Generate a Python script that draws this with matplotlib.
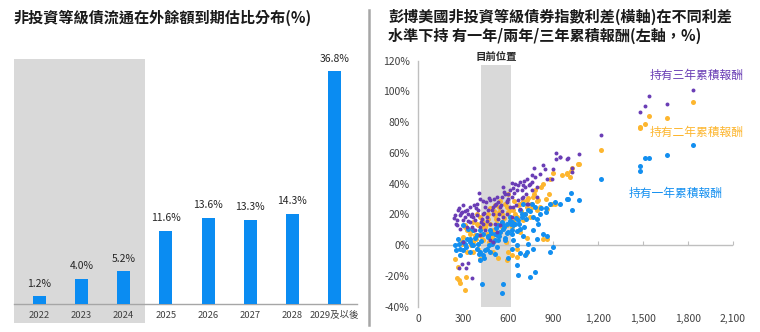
import matplotlib
matplotlib.use("Agg")
import matplotlib.pyplot as plt
from matplotlib.patches import Rectangle
from matplotlib.ticker import FuncFormatter

plt.rcParams['font.family'] = ['Noto Sans CJK TC', 'DejaVu Sans']

# ---------------- data: left chart ----------------
years = ["2022", "2023", "2024", "2025", "2026", "2027", "2028", "2029及以後"]
maturity_pct = [1.2, 4.0, 5.2, 11.6, 13.6, 13.3, 14.3, 36.8]

# ---------------- data: right chart (spread bp, cumulative return %) ----------------
purple_x = [240, 269, 280, 324, 347, 387, 409, 413, 453, 480, 524, 569, 573, 624, 647, 680, 724, 758,
            773, 831, 846, 858, 891, 920, 918, 947, 1002, 1073, 1024, 1024, 702, 658, 758, 791, 736,
            624, 591, 502, 547, 436, 369, 302, 258, 324, 413, 480, 413, 480, 524, 636, 680, 724, 513,
            347, 391, 280, 380, 447, 333, 320, 360, 273, 295, 302, 502, 902,
            291, 313, 358, 402, 447, 469, 513, 536, 558, 602, 613, 669, 691, 713, 747, 780, 591, 624,
            458, 380, 247, 262, 436, 569, 547, 425,
            255, 285, 310, 335, 350, 375, 395, 420, 440, 460, 490, 505, 520, 540, 555, 580, 600, 615,
            630, 650, 665, 690, 705, 720, 740, 760, 790, 810, 270, 300, 330, 360, 430, 470, 500, 530,
            560, 595, 640, 700,
            1220, 1836, 1662, 1542, 1516, 1478, 995, 946]
purple_y = [17.8, 22.8, 19.5, 22.8, 24.9, 24.5, 34.0, 30.3, 28.2, 29.3, 31.4, 37.9, 34.7, 40.5, 40.1,
            40.9, 43.3, 45.5, 50.5, 52.0, 49.8, 43.3, 43.3, 56.3, 60.0, 57.4, 56.7, 59.1, 47.7, 50.0,
            31.4, 35.7, 35.7, 31.4, 27.0, 31.4, 28.2, 20.6, 24.9, 20.6, 18.4, 16.3, 13.0, 11.9, 11.9,
            14.1, 6.5, 3.3, 8.7, 24.9, 23.8, 27.0, 14.1, 15.2, 19.5, 10.8, 9.8, 9.8, -11.7, -15.0,
            -21.5, -15.0, -12.3, 2.2, 2.2, 49.3,
            21.7, 18.4, 20.6, 23.2, 24.9, 22.8, 26.0, 28.2, 31.4, 33.6, 24.9, 29.3, 35.7, 37.9, 40.0,
            44.4, 20.6, 18.4, 18.4, 16.3, 19.5, 16.3, 14.1, 18.4, 13.0, 17.3,
            14, 21, 22, 16, 19, 26, 27, 15, 21, 16, 23, 30, 27, 20, 26, 33, 30, 36,
            37, 26, 39, 31, 42, 33, 39, 41, 38, 46, 24, 26, 20, 12, 29, 31, 25, 17,
            22, 29, 34, 39,
            71.7, 100.8, 91.6, 96.8, 90.4, 86.5, 56.3, 57.4]

orange_x = [247, 269, 262, 273, 280, 320, 313, 329, 369, 402, 413, 291, 347, 369, 436, 491, 524, 542,
            513, 558, 591, 613, 636, 680, 724, 769, 780, 835, 880, 902, 958, 991, 1024, 1013, 1073,
            858, 891, 913, 835, 858, 587, 591, 602, 624, 658, 720, 724, 791, 813, 747, 702, 658, 313,
            391, 436, 469, 413, 358, 502, 547, 458, 380, 624, 680, 513, 480, 302, 329, 558, 580, 602,
            724, 758, 802, 658, 502, 413,
            290, 310, 340, 365, 385, 400, 425, 445, 465, 485, 505, 520, 540, 560, 575, 590, 610, 630,
            645, 665, 685, 700, 715, 735, 750, 775, 795, 820, 850, 870, 350, 420, 480, 545, 600, 640,
            470, 530, 395, 455,
            1220, 1836, 1662, 1542, 1516, 1478, 1478, 996, 1020, 1069]
orange_y = [-8.7, -14.1, -21.2, -22.8, -24.3, -20.6, -29.3, -4.3, -4.3, -2.2, 6.5, 1.1, 7.6, 2.2, 3.3,
            5.4, 14.1, 21.7, 26.0, 20.6, 24.9, 18.4, 22.8, 27.0, 24.9, 31.4, 35.7, 40.0, 43.3, 47.1,
            45.4, 47.0, 50.3, 44.6, 52.8, 23.8, 27.0, 27.0, 4.3, 4.3, 2.2, -9.8, -4.3, -6.5, -7.6,
            -5.4, 4.9, 22.8, 24.9, 18.4, 16.3, 18.4, 13.0, 14.1, 11.9, 17.3, 18.4, 9.8, 9.8, 8.7, 7.6,
            6.5, 11.9, 8.7, 19.5, 14.1, 5.4, 9.8, 15.2, 27.0, 21.7, 29.3, 24.9, 29.3, -2.2, -4.3, -8.7,
            3, 12, 10, 15, 4, 13, 16, 12, 20, 9, 22, 17, 25, 12, 18, 13, 23, 16,
            20, 26, 22, 29, 20, 31, 27, 33, 29, 38, 30, 33, 0, 6, 24, 29, 33, 29,
            2, -8, 20, 14,
            62.2, 93.0, 82.5, 84.0, 78.9, 76.9, 76.0, 46.6, 48.1, 52.6]

blue_x = [247, 264, 280, 298, 313, 329, 347, 369, 391, 409, 413, 436, 458, 480, 513, 491, 524, 547,
          569, 591, 602, 624, 647, 669, 691, 713, 736, 780, 813, 853, 880, 913, 947, 998, 1020, 1024,
          1073, 791, 831, 858, 902, 880, 769, 724, 713, 658, 636, 624, 658, 669, 747, 780, 425, 569,
          558, 413, 347, 280, 580, 536, 513, 469, 436, 391, 369, 331, 302, 413, 480, 536, 558, 613,
          702, 680, 758, 769, 802, 624, 680, 524, 624,
          255, 275, 300, 320, 345, 360, 380, 400, 420, 445, 465, 485, 500, 520, 540, 560, 575, 595,
          610, 630, 650, 670, 690, 705, 720, 745, 765, 790, 820, 850, 440, 470, 510, 580, 620, 660,
          700, 735, 680, 600,
          1220, 1836, 1662, 1542, 1516, 1480, 1480, 995]
blue_y = [0.0, 4.3, -2.2, -3.3, 1.1, 4.3, 2.2, 0.0, -2.2, -5.4, -9.8, -6.5, -2.2, -4.3, -5.4, 1.1, 6.5,
          8.7, 10.8, 14.1, 8.7, 15.2, 14.1, 16.3, 18.4, 20.6, 22.8, 24.9, 20.6, 21.7, 27.0, 28.2, 27.0,
          30.3, 34.0, 22.8, 29.2, 4.3, 7.6, 6.0, -1.1, -4.3, -2.2, -4.3, -6.5, 0.0, 3.3, 7.6, -13.0,
          -19.5, -21.0, -17.7, -25.0, -25.0, -30.8, -4.3, -4.3, -6.5, 3.3, 3.3, 3.3, 5.4, 7.6, 6.5,
          9.8, 10.8, 13.0, 9.8, 9.8, 13.0, 15.2, 18.4, 27.0, 22.8, 27.0, 18.4, 14.1, 9.8, 10.8, -1.1,
          -2.2,
          -3, 1, 2, -1, 4, 0, 5, 1, 3, -3, 6, 8, 2, 11, 6, 14, 12, 8,
          16, 13, 18, 14, 20, 12, 17, 22, 10, 17, 24, 24, -8, 0, 7, 5, 14, 9,
          6, 1, -5, -8,
          42.9, 65.2, 58.5, 56.5, 56.5, 51.6, 48.3, 30.3]

series_labels = ["持有三年累積報酬", "持有二年累積報酬", "持有一年累積報酬"]

C_BAR = "#0A8CF2"
C_BLUE = "#138FF0"
C_ORANGE = "#FDB62F"
C_PURPLE = "#6A3DB5"
C_GRAY = "#D9D9D9"
C_TEXT = "#404040"

fig = plt.figure(figsize=(7.6, 3.32), dpi=100)

# ---------------- left chart ----------------
fig.patches.append(Rectangle((14/760, 9/332), 131/760, 264/332, transform=fig.transFigure,
                             facecolor=C_GRAY, edgecolor="none", zorder=-5))
axL = fig.add_axes([14/760, 28/332, 343/760, 253/332])
axL.set_zorder(2)
axL.patch.set_alpha(0)
xs = list(range(len(years)))
axL.bar(xs, maturity_pct, width=0.31, color=C_BAR, zorder=3)
for x, v in zip(xs, maturity_pct):
    axL.text(x, v + 1.2, f"{v:.1f}%", ha="center", va="bottom", fontsize=7.5, color="#262626")
axL.set_xlim(-0.6, 7.53)
axL.set_ylim(0, 40)
axL.set_xticks(xs)
axL.set_xticklabels(years, fontsize=6.8, color=C_TEXT)
axL.tick_params(axis="x", length=0, pad=5)
axL.set_yticks([])
for s in ["top", "right", "left"]:
    axL.spines[s].set_visible(False)
axL.spines["bottom"].set_color("#A6A6A6")
axL.spines["bottom"].set_linewidth(1.0)

fig.text(14/760, 1 - 18/332, "非投資等級債流通在外餘額到期估比分布(%)", fontsize=10.9,
         fontweight="bold", ha="left", va="center", color="#1a1a1a")

# separator
fig.add_artist(plt.Line2D([369/760, 369/760], [1 - 10/332, 1 - 325/332], transform=fig.transFigure,
                          color="#A6A6A6", linewidth=1.8))

# ---------------- right chart ----------------
axR = fig.add_axes([418/760, 25.3/332, 315/760, 246/332])
axR.set_xlim(0, 2100)
axR.set_ylim(-40, 120)
axR.axvspan(420, 620, ymin=0, ymax=0.983, color=C_GRAY, zorder=0, linewidth=0)
axR.axhline(0, color="#BFBFBF", linewidth=1.0, zorder=1)

axR.scatter(orange_x, orange_y, s=13, color=C_ORANGE, linewidths=0, zorder=3)
axR.scatter(blue_x, blue_y, s=13, color=C_BLUE, linewidths=0, zorder=4)
axR.scatter(purple_x, purple_y, s=8, color=C_PURPLE, linewidths=0, zorder=5)

axR.set_yticks(range(-40, 121, 20))
axR.yaxis.set_major_formatter(FuncFormatter(lambda v, p: f"{int(v)}%"))
axR.set_xticks(range(0, 2101, 300))
axR.xaxis.set_major_formatter(FuncFormatter(lambda v, p: f"{int(v):,}"))
axR.tick_params(axis="both", length=0, labelsize=7.5, labelcolor=C_TEXT)
axR.tick_params(axis="x", pad=5)
axR.tick_params(axis="y", pad=6)
for s in ["top", "right", "bottom"]:
    axR.spines[s].set_visible(False)
axR.spines["left"].set_color("#BFBFBF")
axR.spines["left"].set_linewidth(1.0)

sec = axR.secondary_xaxis(0.25)
sec.set_xticks(range(0, 2101, 300))
sec.tick_params(axis="x", direction="in", length=3, color="#BFBFBF", labelbottom=False)
sec.spines["bottom"].set_visible(False)

axR.text(520, 1.011, "目前位置", transform=axR.get_xaxis_transform(), ha="center", va="center",
         fontsize=7.5, fontweight="bold", color="#262626")

axR.text(1547, 110.5, series_labels[0], color=C_PURPLE, fontsize=8.5, ha="left", va="center")
axR.text(1547, 73.5, series_labels[1], color=C_ORANGE, fontsize=8.5, ha="left", va="center")
axR.text(1407, 33.8, series_labels[2], color=C_BLUE, fontsize=8.5, ha="left", va="center")

fig.text(388/760, 1 - 17/332, "彭博美國非投資等級債券指數利差(橫軸)在不同利差", fontsize=10.9,
         fontweight="bold", ha="left", va="center", color="#1a1a1a")
fig.text(388/760, 1 - 36/332, "水準下持 有一年/兩年/三年累積報酬(左軸，%)", fontsize=10.9,
         fontweight="bold", ha="left", va="center", color="#1a1a1a")

fig.savefig("out.png", dpi=100)
